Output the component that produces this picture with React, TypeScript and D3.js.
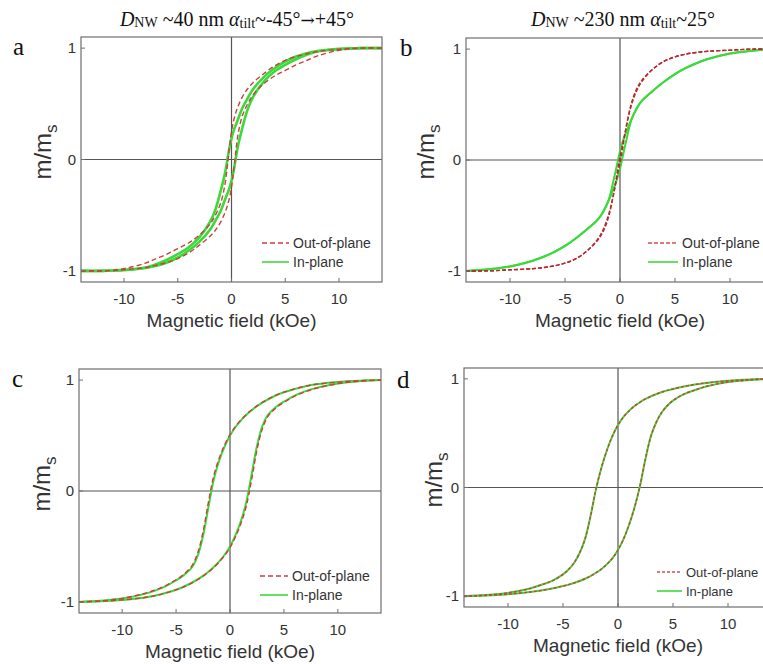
import React from 'react';
import * as d3 from 'd3';

// Field grids (kOe)
const FIELD_AB = [-14, -12, -10, -8, -7, -6, -5, -4, -3, -2, -1.5, -1, -0.6, -0.4, -0.2, 0, 0.2, 0.4, 0.6, 1, 1.5, 2, 3, 4, 5, 6, 7, 8, 10, 12, 14];
const FIELD_CD = [-14, -12, -10, -8, -7, -6, -5, -4.5, -4, -3.5, -3, -2.5, -2, -1.5, -1, -0.5, 0, 0.5, 1, 1.5, 2, 2.5, 3, 3.5, 4, 4.5, 5, 6, 7, 8, 10, 12, 14];

// Panel a (D ~40 nm)
const A_OUT_UPPER = [-1, -1, -0.98, -0.93, -0.89, -0.85, -0.8, -0.75, -0.68, -0.58, -0.5, -0.39, -0.22, -0.07, 0.1, 0.25, 0.35, 0.42, 0.475, 0.56, 0.635, 0.69, 0.77, 0.84, 0.89, 0.925, 0.95, 0.97, 0.99, 1, 1];
const A_OUT_LOWER = [-1, -1, -0.99, -0.97, -0.95, -0.925, -0.89, -0.84, -0.77, -0.69, -0.635, -0.56, -0.475, -0.42, -0.35, -0.25, -0.1, 0.07, 0.22, 0.39, 0.5, 0.58, 0.68, 0.75, 0.8, 0.85, 0.89, 0.93, 0.98, 1, 1];
const A_IN_UPPER = [-1, -1, -0.99, -0.97, -0.94, -0.9, -0.85, -0.79, -0.7, -0.56, -0.45, -0.28, -0.12, -0.01, 0.1, 0.19, 0.26, 0.31, 0.36, 0.46, 0.55, 0.63, 0.74, 0.82, 0.88, 0.925, 0.955, 0.975, 0.995, 1, 1];
const A_IN_LOWER = [-1, -1, -0.995, -0.975, -0.955, -0.925, -0.88, -0.82, -0.74, -0.63, -0.55, -0.46, -0.36, -0.31, -0.26, -0.19, -0.1, 0.01, 0.12, 0.28, 0.45, 0.56, 0.7, 0.79, 0.85, 0.9, 0.94, 0.97, 0.99, 1, 1];

// Panel b (D ~230 nm)
const B_OUT_UPPER = [-1, -1, -0.99, -0.98, -0.97, -0.955, -0.93, -0.89, -0.82, -0.71, -0.62, -0.48, -0.32, -0.2, -0.08, 0.03, 0.12, 0.22, 0.31, 0.5, 0.64, 0.72, 0.82, 0.89, 0.93, 0.955, 0.97, 0.98, 0.99, 1, 1];
const B_OUT_LOWER = [-1, -1, -0.99, -0.98, -0.97, -0.955, -0.93, -0.89, -0.82, -0.72, -0.64, -0.5, -0.31, -0.22, -0.12, -0.03, 0.08, 0.2, 0.32, 0.48, 0.62, 0.71, 0.82, 0.89, 0.93, 0.955, 0.97, 0.98, 0.99, 1, 1];
const B_IN_UPPER = [-1, -0.985, -0.96, -0.91, -0.875, -0.83, -0.775, -0.705, -0.625, -0.535, -0.465, -0.35, -0.19, -0.1, -0.01, 0.08, 0.15, 0.21, 0.26, 0.36, 0.46, 0.535, 0.625, 0.705, 0.775, 0.83, 0.875, 0.91, 0.96, 0.985, 1];
const B_IN_LOWER = [-1, -0.985, -0.96, -0.91, -0.875, -0.83, -0.775, -0.705, -0.625, -0.535, -0.46, -0.36, -0.26, -0.21, -0.15, -0.08, 0.01, 0.1, 0.19, 0.35, 0.465, 0.535, 0.625, 0.705, 0.775, 0.83, 0.875, 0.91, 0.96, 0.985, 1];

// Panel c
const C_OUT_UPPER = [-1, -0.99, -0.968, -0.926, -0.895, -0.855, -0.8, -0.768, -0.725, -0.67, -0.56, -0.37, -0.1, 0.14, 0.295, 0.415, 0.51, 0.582, 0.64, 0.69, 0.731, 0.768, 0.8, 0.827, 0.852, 0.873, 0.891, 0.921, 0.945, 0.962, 0.982, 0.994, 1];
const C_OUT_LOWER = [-1, -0.994, -0.982, -0.962, -0.945, -0.921, -0.891, -0.873, -0.852, -0.827, -0.8, -0.768, -0.731, -0.69, -0.64, -0.582, -0.51, -0.415, -0.295, -0.14, 0.1, 0.37, 0.56, 0.67, 0.725, 0.768, 0.8, 0.855, 0.895, 0.926, 0.968, 0.99, 1];
const C_IN_UPPER = [-1, -0.99, -0.97, -0.93, -0.9, -0.86, -0.805, -0.775, -0.735, -0.685, -0.585, -0.405, -0.145, 0.105, 0.275, 0.4, 0.5, 0.575, 0.635, 0.685, 0.7275, 0.765, 0.7975, 0.825, 0.85, 0.872, 0.89, 0.92, 0.945, 0.962, 0.982, 0.994, 1];
const C_IN_LOWER = [-1, -0.994, -0.982, -0.962, -0.945, -0.92, -0.89, -0.872, -0.85, -0.825, -0.7975, -0.765, -0.7275, -0.685, -0.635, -0.575, -0.5, -0.4, -0.275, -0.105, 0.145, 0.405, 0.585, 0.685, 0.735, 0.775, 0.805, 0.86, 0.9, 0.93, 0.97, 0.99, 1];

// Panel d
const D_OUT_UPPER = [-1, -0.99, -0.97, -0.93, -0.897, -0.86, -0.8, -0.755, -0.695, -0.605, -0.475, -0.265, -0.015, 0.185, 0.345, 0.475, 0.575, 0.65, 0.705, 0.75, 0.785, 0.815, 0.84, 0.861, 0.879, 0.894, 0.907, 0.93, 0.948, 0.962, 0.982, 0.994, 1];
const D_OUT_LOWER = [-1, -0.994, -0.982, -0.962, -0.948, -0.93, -0.907, -0.894, -0.879, -0.861, -0.84, -0.815, -0.785, -0.75, -0.705, -0.65, -0.575, -0.475, -0.345, -0.185, 0.015, 0.265, 0.475, 0.605, 0.695, 0.755, 0.8, 0.86, 0.897, 0.93, 0.97, 0.99, 1];
const D_IN_UPPER = [-1, -0.99, -0.97, -0.93, -0.897, -0.86, -0.8, -0.755, -0.695, -0.605, -0.475, -0.265, -0.015, 0.185, 0.345, 0.475, 0.575, 0.65, 0.705, 0.75, 0.785, 0.815, 0.84, 0.861, 0.879, 0.894, 0.907, 0.93, 0.948, 0.962, 0.982, 0.994, 1];
const D_IN_LOWER = [-1, -0.994, -0.982, -0.962, -0.948, -0.93, -0.907, -0.894, -0.879, -0.861, -0.84, -0.815, -0.785, -0.75, -0.705, -0.65, -0.575, -0.475, -0.345, -0.185, 0.015, 0.265, 0.475, 0.605, 0.695, 0.755, 0.8, 0.86, 0.897, 0.93, 0.97, 0.99, 1];

const X_TICKS = [-10, -5, 0, 5, 10];
const Y_TICKS = [-1, 0, 1];
const SERIES_NAMES = ['Out-of-plane', 'In-plane'];

const SANS = "'Liberation Sans', Arial, Helvetica, sans-serif";
const SERIF = "'Liberation Serif', 'Times New Roman', serif";
const RED = '#cf3d3d';
const GREEN = '#3ada3a';

type PanelCfg = {
  id: string;
  letter: string;
  letterX: number;
  letterY: number;
  left: number;
  right: number;
  top: number;
  bottom: number;
  field: number[];
  outUpper: number[];
  outLower: number[];
  inUpper: number[];
  inLower: number[];
  ylabX: number;
  ylabY: number;
  legX: number;
  legLen: number;
  legY: number;
  legFont: number;
  greenW: number;
  redColor: string;
  legRed: string;
  dash: string;
};

const PANELS: PanelCfg[] = [
  { id: 'a', letter: 'a', letterX: 13, letterY: 55, left: 81, right: 382, top: 37, bottom: 282, field: FIELD_AB,
    outUpper: A_OUT_UPPER, outLower: A_OUT_LOWER, inUpper: A_IN_UPPER, inLower: A_IN_LOWER,
    ylabX: 51, ylabY: 152, legX: 262, legLen: 27, legY: 243, legFont: 14, greenW: 2.6, redColor: RED, legRed: RED, dash: '5,3' },
  { id: 'b', letter: 'b', letterX: 400, letterY: 56, left: 466, right: 774, top: 38, bottom: 282, field: FIELD_AB,
    outUpper: B_OUT_UPPER, outLower: B_OUT_LOWER, inUpper: B_IN_UPPER, inLower: B_IN_LOWER,
    ylabX: 434, ylabY: 152, legX: 648, legLen: 30, legY: 243, legFont: 14, greenW: 2, redColor: '#b8282c', legRed: '#d05050', dash: '4,2' },
  { id: 'c', letter: 'c', letterX: 12, letterY: 387, left: 79, right: 381, top: 369, bottom: 613, field: FIELD_CD,
    outUpper: C_OUT_UPPER, outLower: C_OUT_LOWER, inUpper: C_IN_UPPER, inLower: C_IN_LOWER,
    ylabX: 50, ylabY: 484, legX: 260, legLen: 28, legY: 576, legFont: 14, greenW: 2, redColor: RED, legRed: RED, dash: '5,3' },
  { id: 'd', letter: 'd', letterX: 397, letterY: 388, left: 464, right: 772, top: 368, bottom: 607, field: FIELD_CD,
    outUpper: D_OUT_UPPER, outLower: D_OUT_LOWER, inUpper: D_IN_UPPER, inLower: D_IN_LOWER,
    ylabX: 442, ylabY: 480, legX: 657, legLen: 25, legY: 572, legFont: 13, greenW: 2, redColor: RED, legRed: '#d05050', dash: '3,2' },
];

function Panel({ p }: { p: PanelCfg }) {
  const x = d3.scaleLinear().domain([-14, 14]).range([p.left, p.right]);
  const y = d3.scaleLinear().domain([-1.1, 1.1]).range([p.bottom, p.top]);
  const line = d3
    .line<number>()
    .x((_, i) => x(p.field[i]))
    .y((d) => y(d))
    .curve(d3.curveCatmullRom.alpha(0.5));
  const clipId = `clip-${p.id}`;
  const axisColor = '#6e6e6e';
  return (
    <g>
      <defs>
        <clipPath id={clipId}>
          <rect x={p.left} y={p.top} width={p.right - p.left} height={p.bottom - p.top} />
        </clipPath>
      </defs>
      <line x1={x(0)} x2={x(0)} y1={p.top} y2={p.bottom} stroke="#555" strokeWidth={1.2} />
      <line x1={p.left} x2={p.right} y1={y(0)} y2={y(0)} stroke="#555" strokeWidth={1.2} />
      <g clipPath={`url(#${clipId})`}>
        {[p.inUpper, p.inLower].map((arr, i) => (
          <path key={`g${i}`} d={line(arr) || ''} fill="none" stroke={GREEN} strokeWidth={p.greenW} />
        ))}
        {[p.outUpper, p.outLower].map((arr, i) => (
          <path key={`r${i}`} d={line(arr) || ''} fill="none" stroke={p.redColor} strokeWidth={1.4} strokeDasharray={p.dash} />
        ))}
      </g>
      <rect x={p.left} y={p.top} width={p.right - p.left} height={p.bottom - p.top} fill="none" stroke={axisColor} strokeWidth={1.2} />
      {X_TICKS.map((t) => (
        <g key={`xt${t}`}>
          <line x1={x(t)} x2={x(t)} y1={p.bottom} y2={p.bottom - 4} stroke={axisColor} strokeWidth={1} />
          <text x={x(t)} y={p.bottom + 22} textAnchor="middle" fontFamily={SANS} fontSize={15} fill="#333">
            {t}
          </text>
        </g>
      ))}
      {Y_TICKS.map((t) => (
        <g key={`yt${t}`}>
          <line x1={p.left} x2={p.left + 4} y1={y(t)} y2={y(t)} stroke={axisColor} strokeWidth={1} />
          <text x={p.left - 5} y={y(t) + 5} textAnchor="end" fontFamily={SANS} fontSize={15} fill="#333">
            {t}
          </text>
        </g>
      ))}
      <text x={(p.left + p.right) / 2} y={p.bottom + 45} textAnchor="middle" fontFamily={SANS} fontSize={19} fill="#333">
        Magnetic field (kOe)
      </text>
      <text transform={`translate(${p.ylabX},${p.ylabY}) rotate(-90)`} textAnchor="middle" fontFamily={SANS} fontSize={24} fill="#333">
        m/m<tspan fontSize={17} dy={6}>s</tspan>
      </text>
      <text x={p.letterX} y={p.letterY} fontFamily={SERIF} fontSize={25} fill="#111">
        {p.letter}
      </text>
      <line x1={p.legX} x2={p.legX + p.legLen} y1={p.legY} y2={p.legY} stroke={p.legRed} strokeWidth={1.6} strokeDasharray={p.dash} />
      <text x={p.legX + p.legLen + 4} y={p.legY + 5} fontFamily={SANS} fontSize={p.legFont} fill="#333">
        {SERIES_NAMES[0]}
      </text>
      <line x1={p.legX} x2={p.legX + p.legLen} y1={p.legY + 19} y2={p.legY + 19} stroke={GREEN} strokeWidth={1.6} />
      <text x={p.legX + p.legLen + 4} y={p.legY + 24} fontFamily={SANS} fontSize={p.legFont} fill="#333">
        {SERIES_NAMES[1]}
      </text>
    </g>
  );
}

export default function App() {
  return (
    <svg
      width={763}
      height={664}
      style={{ position: 'absolute', left: 0, top: 0, display: 'block', background: '#fff' }}
    >
      <rect x={0} y={0} width={763} height={664} fill="#fff" />
      <text x={237} y={26} textAnchor="middle" fontFamily={SERIF} fontSize={20} fill="#111">
        <tspan fontStyle="italic">D</tspan>
        <tspan fontSize={14} dy={1}>NW</tspan>
        <tspan dy={-1}> ~40 nm </tspan>
        <tspan fontStyle="italic">α</tspan>
        <tspan fontSize={14} dy={2}>tilt</tspan>
        <tspan dy={-2}>~-45°</tspan>
        <tspan fontFamily="'DejaVu Serif', serif" fontSize={17}>→</tspan>
        <tspan>+45°</tspan>
      </text>
      <text x={623} y={26} textAnchor="middle" fontFamily={SERIF} fontSize={20} fill="#111">
        <tspan fontStyle="italic">D</tspan>
        <tspan fontSize={14} dy={1}>NW</tspan>
        <tspan dy={-1}> ~230 nm </tspan>
        <tspan fontStyle="italic">α</tspan>
        <tspan fontSize={14} dy={2}>tilt</tspan>
        <tspan dy={-2}>~25°</tspan>
      </text>
      {PANELS.map((p) => (
        <Panel key={p.id} p={p} />
      ))}
    </svg>
  );
}
